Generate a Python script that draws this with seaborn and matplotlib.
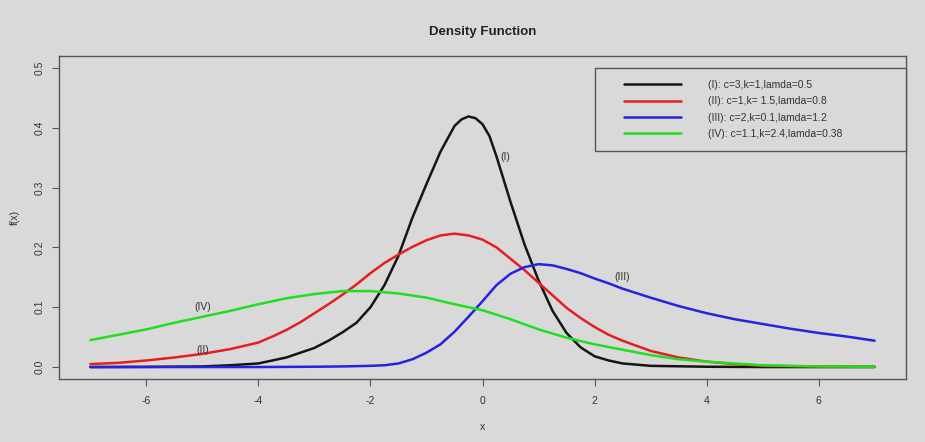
import numpy as np
import pandas as pd
import matplotlib
matplotlib.use("Agg")
import matplotlib.pyplot as plt
import seaborn as sns
from matplotlib.lines import Line2D
from matplotlib.legend_handler import HandlerLine2D

# ---------------- data ----------------
x_I = [-7, -6, -5, -4.5, -4, -3.5, -3, -2.75, -2.5, -2.25, -2, -1.75, -1.5, -1.25,
       -1, -0.75, -0.5, -0.375, -0.25, -0.125, 0, 0.125, 0.25, 0.5, 0.75, 1, 1.25,
       1.5, 1.75, 2, 2.25, 2.5, 3, 4, 5, 6, 7]
y_I = [0.0, 0.0003, 0.001, 0.003, 0.006, 0.016, 0.032, 0.044, 0.058, 0.074, 0.100,
       0.137, 0.186, 0.250, 0.306, 0.360, 0.403, 0.414, 0.419, 0.416, 0.406, 0.386,
       0.352, 0.276, 0.205, 0.145, 0.094, 0.057, 0.033, 0.018, 0.011, 0.006, 0.002,
       0.0005, 0.0, 0.0, 0.0]

x_II = [-7, -6.5, -6, -5.5, -5, -4.5, -4, -3.75, -3.5, -3.25, -3, -2.75, -2.5, -2.25,
        -2, -1.75, -1.5, -1.25, -1, -0.75, -0.5, -0.25, 0, 0.25, 0.5, 0.75, 1,
        1.25, 1.5, 1.75, 2, 2.25, 2.5, 3, 3.5, 4, 4.5, 5, 6, 7]
y_II = [0.005, 0.007, 0.011, 0.016, 0.022, 0.030, 0.041, 0.051, 0.062, 0.075, 0.090,
        0.105, 0.121, 0.138, 0.157, 0.174, 0.188, 0.201, 0.212, 0.220, 0.223, 0.220,
        0.213, 0.200, 0.181, 0.162, 0.141, 0.120, 0.099, 0.082, 0.067, 0.054, 0.044,
        0.027, 0.016, 0.009, 0.005, 0.002, 0.001, 0.0005]

x_III = [-7, -6, -5, -4, -3, -2.5, -2, -1.75, -1.5, -1.25, -1, -0.75, -0.5, -0.25, 0,
         0.25, 0.5, 0.75, 1, 1.25, 1.5, 1.75, 2, 2.25, 2.5, 3, 3.5, 4, 4.5, 5, 5.5,
         6, 6.5, 7]
y_III = [0.0, 0.0, 0.0, 0.0, 0.0005, 0.001, 0.002, 0.003, 0.006, 0.013, 0.024, 0.038,
         0.059, 0.084, 0.110, 0.137, 0.156, 0.167, 0.172, 0.170, 0.164, 0.157, 0.148,
         0.140, 0.131, 0.116, 0.102, 0.090, 0.080, 0.072, 0.064, 0.057, 0.051, 0.044]

x_IV = [-7, -6.5, -6, -5.5, -5, -4.5, -4, -3.5, -3, -2.5, -2, -1.5, -1, -0.5, 0,
        0.5, 1, 1.5, 2, 2.5, 3, 3.5, 4, 4.5, 5, 6, 7]
y_IV = [0.045, 0.054, 0.063, 0.074, 0.084, 0.094, 0.105, 0.115, 0.122, 0.127,
        0.127, 0.123, 0.116, 0.105, 0.095, 0.080, 0.063, 0.049, 0.038, 0.029,
        0.020, 0.013, 0.009, 0.006, 0.003, 0.001, 0.0005]

legend_labels = ["(I): c=3,k=1,lamda=0.5",
                 "(II): c=1,k= 1.5,lamda=0.8",
                 "(III): c=2,k=0.1,lamda=1.2",
                 "(IV): c=1.1,k=2.4,lamda=0.38"]
curve_tags = ["(I)", "(II)", "(III)", "(IV)"]
tag_x = [0.41, -5.0, 2.5, -5.0]
tag_y = [0.351, 0.029, 0.151, 0.100]

x_ticks = [-6, -4, -2, 0, 2, 4, 6]
y_ticks = [0.0, 0.1, 0.2, 0.3, 0.4, 0.5]

# ---------------- styling ----------------
BG = "#d9d9d9"
sns.set_style("white")
plt.rcParams["font.family"] = ["Liberation Sans", "DejaVu Sans"]
plt.rcParams["axes.unicode_minus"] = False

colors = ["#151515", "#e41f1f", "#2323e2", "#1fdf1f"]

fig = plt.figure(figsize=(9.25, 4.42), dpi=100, facecolor=BG)
W, H = 925, 442
ax = fig.add_axes([59 / W, 1 - 379 / H, (906 - 59) / W, (379 - 56) / H])
ax.set_facecolor(BG)

series = [(x_I, y_I), (x_II, y_II), (x_III, y_III), (x_IV, y_IV)]
for (xs, ys), col, lab in zip(series, colors, legend_labels):
    df = pd.DataFrame({"x": xs, "y": ys})
    sns.lineplot(data=df, x="x", y="y", ax=ax, color=col, linewidth=1.8,
                 estimator=None, sort=True, label=lab, legend=False)

for t, tx, ty in zip(curve_tags, tag_x, tag_y):
    ax.text(tx, ty, t, fontsize=7.5, color="#333333", ha="center", va="center")

ax.set_xlim(-7.56, 7.56)
ax.set_ylim(-0.02, 0.52)
ax.set_xticks(x_ticks)
ax.set_xticklabels([str(v) for v in x_ticks])
ax.set_yticks(y_ticks)
ax.set_yticklabels([f"{v:.1f}" for v in y_ticks], rotation=90, va="center")

for s in ax.spines.values():
    s.set_color("#555555")
    s.set_linewidth(1.0)
    s.set_visible(True)

ax.tick_params(axis="both", direction="out", length=5, width=0.8, color="#555555",
               labelsize=7.5, labelcolor="#333333", bottom=True, left=True)
ax.tick_params(axis="x", pad=7)
ax.tick_params(axis="y", pad=5)

ax.set_xlabel("x", fontsize=7.5, color="#333333", labelpad=12)
ax.set_ylabel("f(x)", fontsize=7.5, color="#333333", labelpad=11)
ax.set_title("Density Function", fontsize=9.5, fontweight="bold", color="#222222", pad=15)

handles = [Line2D([], [], color=c, linewidth=1.8) for c in colors]
leg = ax.legend(handles, legend_labels, loc="upper left",
                bbox_to_anchor=(595 / W, 1 - 150 / H, (906 - 595) / W, (150 - 68) / H),
                bbox_transform=fig.transFigure, mode="expand",
                fontsize=7.5, frameon=True, fancybox=False, framealpha=1,
                facecolor=BG, edgecolor="#555555", borderpad=1.15, labelspacing=0.61,
                handlelength=7.1, handletextpad=2.6, borderaxespad=0,
                handler_map={Line2D: HandlerLine2D(xpad=1.63)})
leg.get_frame().set_linewidth(1.0)
for txt in leg.get_texts():
    txt.set_color("#333333")

fig.savefig("out.png", dpi=100, facecolor=BG)
